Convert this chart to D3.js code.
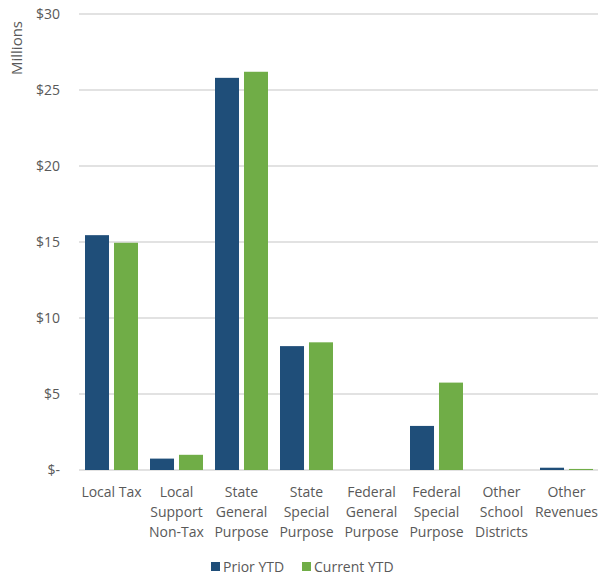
<!DOCTYPE html>
<html>
<head>
<meta charset="utf-8">
<script src="https://cdn.jsdelivr.net/npm/d3@7"></script>
<style>
  body { margin: 0; background: #fff; }
  text { font-family: "Open Sans", "Liberation Sans", sans-serif; fill: #595959; }
</style>
</head>
<body>
<div id="chart"></div>
<script>
// categories (multi-line labels) and series values, in millions
const categories = [
    ["Local Tax"],
    ["Local", "Support", "Non-Tax"],
    ["State", "General", "Purpose"],
    ["State", "Special", "Purpose"],
    ["Federal", "General", "Purpose"],
    ["Federal", "Special", "Purpose"],
    ["Other", "School", "Districts"],
    ["Other", "Revenues"]
];
const seriesNames = ["Prior YTD", "Current YTD"];
const priorYTD = [15.45, 0.75, 25.8, 8.15, 0, 2.9, 0, 0.15];
const currentYTD = [14.95, 1.0, 26.2, 8.4, 0, 5.75, 0, 0.07];
const yTicks = [0, 5, 10, 15, 20, 25, 30];
const colours = ["#1f4e79", "#70ad47"];

const width = 598;
const height = 577;
const margin = {top: 14, right: -1, bottom: 107, left: 79};

const data = categories.map((c, i) => ({
    key: c.join(" "),
    lines: c,
    values: [priorYTD[i], currentYTD[i]]
}));

const svg = d3.select("#chart")
    .append("svg")
    .attr("width", width)
    .attr("height", height);

const x0 = d3.scaleBand()
    .domain(data.map(d => d.key))
    .range([margin.left, width - margin.right])
    .padding(0);

const x1 = d3.scaleBand()
    .domain(seriesNames)
    .range([0, x0.bandwidth()])
    .paddingInner(0.172)
    .paddingOuter(0.207);

const y = d3.scaleLinear()
    .domain([0, 30])
    .range([height - margin.bottom, margin.top]);

// gridlines
svg.append("g")
    .selectAll("line")
    .data(yTicks)
    .join("line")
    .attr("x1", margin.left)
    .attr("x2", width - margin.right)
    .attr("y1", d => y(d))
    .attr("y2", d => y(d))
    .attr("stroke", "#d9d9d9")
    .attr("stroke-width", 1.5);

// y tick labels
svg.append("g")
    .selectAll("text")
    .data(yTicks)
    .join("text")
    .attr("x", 60)
    .attr("y", d => y(d))
    .attr("dy", "0.35em")
    .attr("text-anchor", "end")
    .style("font-size", "14px")
    .text(d => d === 0 ? "$-" : "$" + d);

// axis title
svg.append("text")
    .attr("transform", "translate(22,48) rotate(-90)")
    .attr("text-anchor", "middle")
    .style("font-size", "15px")
    .text("Millions");

// bars
const groups = svg.append("g")
    .selectAll("g")
    .data(data)
    .join("g")
    .attr("transform", d => `translate(${x0(d.key)},0)`);

groups.selectAll("rect")
    .data(d => d.values.map((v, i) => ({series: seriesNames[i], value: v, i: i})))
    .join("rect")
    .attr("x", d => x1(d.series))
    .attr("width", x1.bandwidth())
    .attr("y", d => y(d.value))
    .attr("height", d => y(0) - y(d.value))
    .attr("fill", d => colours[d.i]);

// category labels
const labels = svg.append("g")
    .selectAll("text")
    .data(data)
    .join("text")
    .attr("x", d => x0(d.key) + x0.bandwidth() / 2)
    .attr("y", 497)
    .attr("text-anchor", "middle")
    .style("font-size", "14px");

labels.selectAll("tspan")
    .data(d => d.lines)
    .join("tspan")
    .attr("x", function() { return d3.select(this.parentNode).attr("x"); })
    .attr("dy", (d, i) => i === 0 ? 0 : 20)
    .text(d => d);

// legend
const legend = svg.append("g")
    .attr("transform", "translate(211,567)");

const legendItems = legend.selectAll("g")
    .data(seriesNames)
    .join("g")
    .attr("transform", (d, i) => `translate(${i * 91},0)`);

legendItems.append("rect")
    .attr("x", 0)
    .attr("y", -5)
    .attr("width", 9)
    .attr("height", 9)
    .attr("fill", (d, i) => colours[i]);

legendItems.append("text")
    .attr("x", 12)
    .attr("y", 0)
    .attr("dy", "0.35em")
    .style("font-size", "14px")
    .text(d => d);
</script>
</body>
</html>
